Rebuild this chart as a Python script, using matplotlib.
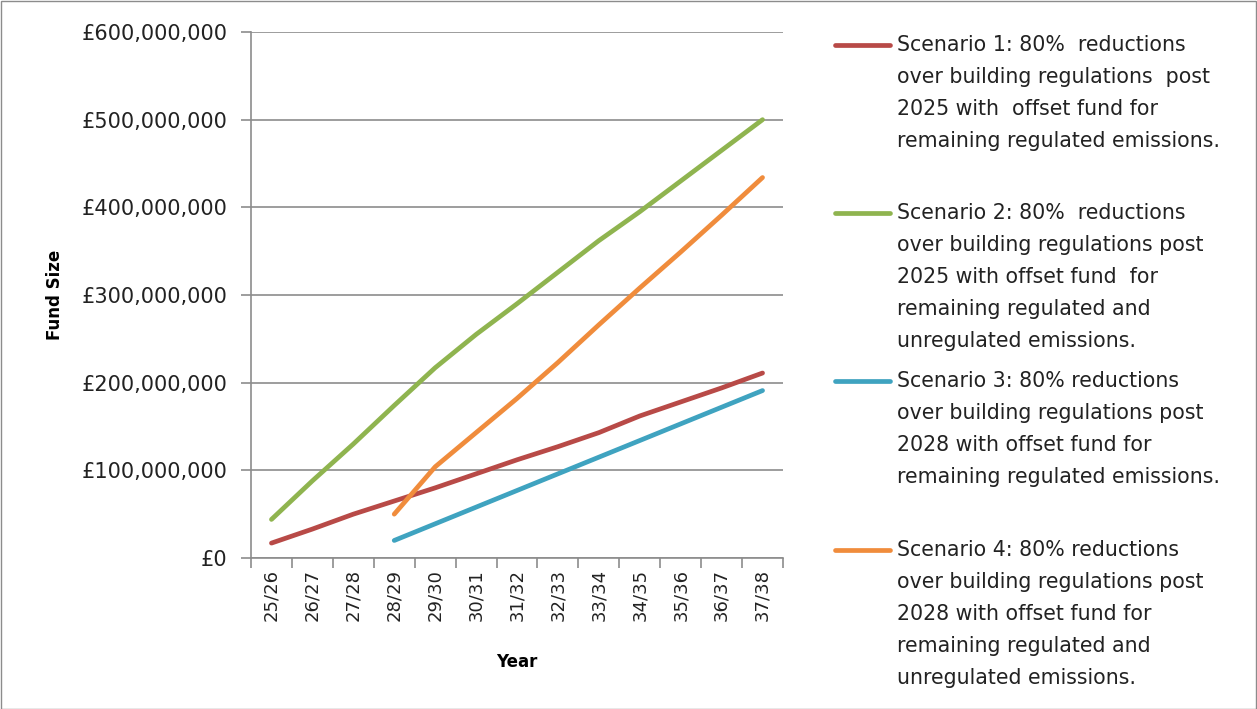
import numpy as np
import matplotlib.pyplot as plt
from matplotlib.lines import Line2D
from matplotlib.patches import Rectangle
from matplotlib.ticker import FuncFormatter

years = ['25/26', '26/27', '27/28', '28/29', '29/30', '30/31', '31/32',
         '32/33', '33/34', '34/35', '35/36', '36/37', '37/38']

# fund size in £ millions, None where the scenario has not started yet
scenario1 = [17, 33, 50, 65, 80, 96, 112, 127, 143, 162, 178, 194, 211]
scenario2 = [44, 88, 130, 174, 217, 255, 290, 326, 362, 395, 430, 465, 500]
scenario3 = [None, None, None, 20, 39, 58, 77, 96, 115, 134, 153, 172, 191]
scenario4 = [None, None, None, 50, 104, 143, 182, 223, 266, 308, 349, 391, 434]

labels = [
    'Scenario 1: 80%  reductions\nover building regulations  post\n2025 with  offset fund for\nremaining regulated emissions.',
    'Scenario 2: 80%  reductions\nover building regulations post\n2025 with offset fund  for\nremaining regulated and\nunregulated emissions.',
    'Scenario 3: 80% reductions\nover building regulations post\n2028 with offset fund for\nremaining regulated emissions.',
    'Scenario 4: 80% reductions\nover building regulations post\n2028 with offset fund for\nremaining regulated and\nunregulated emissions.',
]
colors = ['#B84A47', '#8FB44F', '#3FA3C0', '#F08C3C']

plt.rcParams['font.family'] = 'DejaVu Sans'
W, H = 1257, 709
fig = plt.figure(figsize=(W / 100, H / 100), dpi=100)
ax = fig.add_axes([251 / W, 1 - 558 / H, 532 / W, 526 / H])

x = np.arange(len(years))
for vals, c in zip([scenario1, scenario2, scenario3, scenario4], colors):
    y = np.array([np.nan if v is None else v * 1e6 for v in vals], dtype=float)
    ax.plot(x, y, color=c, lw=3.4, solid_capstyle='round', zorder=3)

grid_c = '#8C8C8C'
ax.set_xlim(-0.5, len(years) - 0.5)
ax.set_ylim(0, 600e6)
ax.set_yticks(np.arange(0, 600e6 + 1, 100e6))
ax.yaxis.set_major_formatter(FuncFormatter(lambda v, p: '£{:,.0f}'.format(v)))
ax.grid(axis='y', color=grid_c, lw=1.2)
ax.set_axisbelow(True)

# tick marks between categories, labels at the category centres
ax.set_xticks(np.arange(-0.5, len(years)), labels=[])
ax.set_xticks(x, labels=years, minor=True)
ax.tick_params(axis='x', which='major', length=7, color=grid_c, width=1.2)
ax.tick_params(axis='x', which='minor', length=0, labelsize=13, rotation=90, pad=8,
               labelcolor='#222222')
ax.tick_params(axis='y', length=7, color=grid_c, width=1.2, labelsize=15, pad=10,
               labelcolor='#222222')

for s in ['top', 'right']:
    ax.spines[s].set_visible(False)
for s in ['left', 'bottom']:
    ax.spines[s].set_color(grid_c)
    ax.spines[s].set_linewidth(1.2)

fig.text(55 / W, 1 - 295 / H, 'Fund Size', rotation=90, ha='center', va='center',
         fontsize=12, fontweight='bold')
fig.text(517 / W, 1 - 662 / H, 'Year', ha='center', va='center',
         fontsize=12, fontweight='bold')

# legend drawn line by line on the right
first_rows = [45, 213, 381, 550]
row_h = 32
for lab, c, y0 in zip(labels, colors, first_rows):
    fig.add_artist(Line2D([835 / W, 890 / W], [1 - y0 / H] * 2, color=c, lw=3.4,
                          solid_capstyle='round'))
    for i, line in enumerate(lab.split('\n')):
        fig.text(897 / W, 1 - (y0 + i * row_h) / H, line, ha='left', va='center',
                 fontsize=14.8, color='#222222')

fig.add_artist(Rectangle((0.5 / W, 0.5 / H), 1 - 1.5 / W, 1 - 1.5 / H, fill=False,
                         edgecolor='#8C8C8C', lw=1, transform=fig.transFigure))

fig.savefig('out.png', dpi=100)
